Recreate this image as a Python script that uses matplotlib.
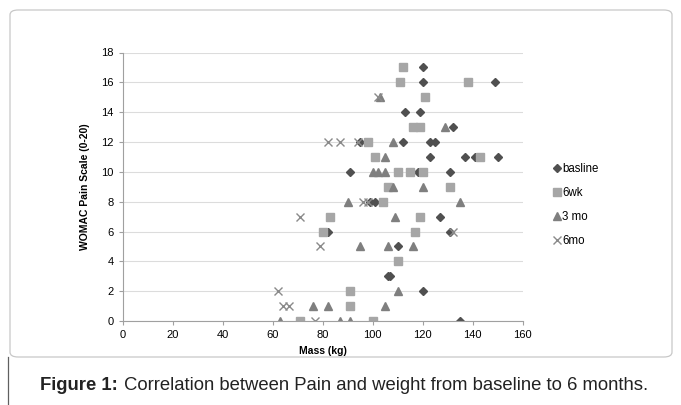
import matplotlib
matplotlib.use('Agg')
import matplotlib.pyplot as plt
from matplotlib.patches import FancyBboxPatch
from matplotlib.lines import Line2D

plt.rcParams['font.family'] = ['Liberation Sans Narrow', 'Liberation Sans', 'DejaVu Sans']

# (mass kg, pain score)
base_x = [120, 120, 149, 113, 119, 132, 112, 123, 125, 95, 123, 137, 141, 150,
          131, 118, 91, 99, 101, 127, 131, 82, 110, 106, 107, 120, 135]
base_y = [17, 16, 16, 14, 14, 13, 12, 12, 12, 12, 11, 11, 11, 11,
          10, 10, 10, 8, 8, 7, 6, 6, 5, 3, 3, 2, 0]

wk6_x = [112, 111, 138, 121, 116, 119, 98, 101, 143, 110, 115, 120, 131, 106,
         104, 83, 119, 117, 80, 110, 91, 91, 71, 100]
wk6_y = [17, 16, 16, 15, 13, 13, 12, 11, 11, 10, 10, 10, 9, 9,
         8, 7, 7, 6, 6, 4, 2, 1, 0, 0]

mo3_x = [103, 129, 108, 105, 100, 102, 105, 108, 120, 90, 135, 109, 95, 106,
         116, 110, 76, 82, 105, 63, 87, 91]
mo3_y = [15, 13, 12, 11, 10, 10, 10, 9, 9, 8, 8, 7, 5, 5,
         5, 2, 1, 1, 1, 0, 0, 0]

mo6_x = [102, 82, 87, 94, 96, 98, 71, 79, 132, 62, 64, 66.5, 77]
mo6_y = [15, 12, 12, 12, 8, 8, 7, 5, 6, 2, 1, 1, 0]

W, H = 681, 405
fig = plt.figure(figsize=(W / 100, H / 100), dpi=100)
ax = fig.add_axes([122.5 / W, 1 - 321 / H, 400 / W, 268.5 / H])

ax.plot(base_x, base_y, 'D', ms=4.4, color='#505050', mec='#505050', label='basline')
ax.plot(wk6_x, wk6_y, 's', ms=5.6, color='#a6a6a6', mec='#a6a6a6', label='6wk')
ax.plot(mo3_x, mo3_y, '^', ms=6.0, color='#7f7f7f', mec='#7f7f7f', label='3 mo')
ax.plot(mo6_x, mo6_y, 'x', ms=5.4, mew=1.0, color='#8a8a8a', label='6mo')

ax.set_xlim(0, 160)
ax.set_ylim(0, 18)
ax.set_xticks(range(0, 161, 20))
ax.set_yticks(range(0, 19, 2))
ax.yaxis.grid(True, color='#dcdcdc', lw=0.8)
ax.set_axisbelow(True)
for s in ['top', 'right']:
    ax.spines[s].set_visible(False)
for s in ['left', 'bottom']:
    ax.spines[s].set_color('#a0a0a0')
    ax.spines[s].set_linewidth(0.8)
ax.tick_params(axis='both', labelsize=8, colors='#a0a0a0', labelcolor='black',
               length=3, width=0.8, direction='out')
ax.set_xlabel('Mass (kg)', fontsize=7.5, fontweight='bold', labelpad=4)
ax.set_ylabel('WOMAC Pain Scale (0-20)', fontsize=7.5, fontweight='bold', labelpad=8)

fig.legend(loc='center left', bbox_to_anchor=(550 / W, 1 - 205 / H), frameon=False,
           handlelength=0.5, handletextpad=0.15, labelspacing=1.05, borderaxespad=0,
           prop={'family': ['Liberation Sans', 'DejaVu Sans'], 'size': 8.3})

# chart frame
frame = FancyBboxPatch((10 / W, 1 - 357 / H), 662 / W, 347 / H,
                       boxstyle='round,pad=0,rounding_size=0.012',
                       transform=fig.transFigure, fill=False,
                       edgecolor='#c8c8c8', lw=0.9)
fig.patches.append(frame)
fig.lines.append(Line2D([8 / W, 8 / W], [0, 1 - 357 / H], transform=fig.transFigure,
                        color='#606060', lw=0.9))

fig.text(40 / W, 1 - 385 / H, 'Figure 1:', fontsize=13.3, fontweight='bold',
         family=['Liberation Sans', 'DejaVu Sans'], va='center', ha='left', color='#222222')
fig.text(124 / W, 1 - 385 / H,
         'Correlation between Pain and weight from baseline to 6 months.',
         fontsize=13.3, family=['Liberation Sans', 'DejaVu Sans'], va='center', ha='left',
         color='#222222')

fig.savefig('out.png', dpi=100)
